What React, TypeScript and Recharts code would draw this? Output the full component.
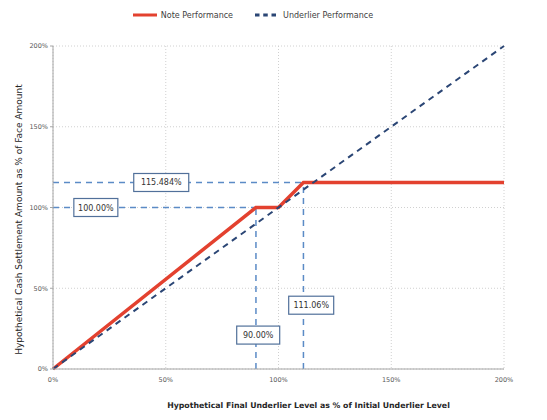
import React from 'react';
import {
  LineChart, Line, XAxis, YAxis, CartesianGrid, Legend, ReferenceLine, ReferenceDot, Label,
} from 'recharts';

// payoff points (x = final underlier level %, y = cash settlement %)
const noteX = [0, 90, 100, 111.06, 200];
const noteY = [0, 100, 100, 115.484, 115.484];
const underX = [0, 200];
const underY = [0, 200];
const axisTicks = [0, 50, 100, 150, 200];

const capLevel = 115.484;
const capStrike = 111.06;
const floorLevel = 100;
const floorStrike = 90;

// annotation boxes, placed in data space
const boxes = [
  { x: 48, y: capLevel, text: '115.484%', w: 55 },
  { x: 19, y: floorLevel, text: '100.00%', w: 44 },
  { x: 91, y: 21, text: '90.00%', w: 43 },
  { x: 114.5, y: 39.5, text: '111.06%', w: 45 },
];

const noteData = noteX.map((x, i) => ({ x, y: noteY[i] }));
const underData = underX.map((x, i) => ({ x, y: underY[i] }));

const FONT = 'Tahoma, "DejaVu Sans", sans-serif';
const RED = '#e3412f';
const NAVY = '#2b4675';
const GUIDE = '#5b8bc6';

const BoxShape = (w: number, text: string) => (props: any) => {
  const { cx, cy } = props;
  const h = 18;
  return (
    <g>
      <rect x={cx - w / 2} y={cy - h / 2} width={w} height={h} fill="#fff" stroke="#51709a" strokeWidth={1.2} />
      <text x={cx} y={cy + 3} textAnchor="middle" fontSize={8} fontFamily={FONT} fill="#333">{text}</text>
    </g>
  );
};

const YTitle = (props: any) => {
  const { viewBox } = props;
  const x = 19;
  const y = viewBox.y + viewBox.height / 2 + 12;
  return (
    <text
      x={x}
      y={y}
      transform={`rotate(-90 ${x} ${y})`}
      textAnchor="middle"
      dominantBaseline="central"
      fontSize={9}
      fill="#262626"
      fontFamily={FONT}
    >
      Hypothetical Cash Settlement Amount as % of Face Amount
    </text>
  );
};

const pct = (v: number) => `${v}%`;

export default function App() {
  return (
    <div style={{ position: 'absolute', left: 0, top: 0, width: 547, height: 420, background: '#fff' }}>
      <LineChart width={547} height={420} margin={{ top: 22, right: 43, bottom: 0, left: 0 }}>
        <CartesianGrid stroke="#d0d0d0" strokeDasharray="1 2" />
        <XAxis
          type="number"
          dataKey="x"
          domain={[0, 200]}
          ticks={axisTicks}
          tickFormatter={pct}
          height={51}
          axisLine={{ stroke: '#a6a6a6' }}
          tickLine={false}
          tick={{ fontSize: 6.5, fill: '#595959', fontFamily: FONT }}
          allowDuplicatedCategory={false}
        >
          <Label
            value="Hypothetical Final Underlier Level as % of Initial Underlier Level"
            position="insideBottom"
            offset={12}
            dx={30}
            style={{ fontSize: 7.8, fontWeight: 'bold', fill: '#262626', fontFamily: FONT }}
          />
        </XAxis>
        <YAxis
          type="number"
          domain={[0, 200]}
          ticks={axisTicks}
          tickFormatter={pct}
          width={53}
          axisLine={{ stroke: '#a6a6a6' }}
          tickLine={{ stroke: '#a6a6a6' }}
          tickSize={3}
          tick={{ fontSize: 6.5, fill: '#595959', fontFamily: FONT }}
        >
          <Label content={<YTitle />} />
        </YAxis>
        <Legend
          verticalAlign="top"
          align="center"
          iconSize={24}
          wrapperStyle={{ top: 3, left: 12, fontSize: 8, fontFamily: FONT }}
          formatter={(v: string) => <span style={{ color: '#404040', paddingRight: 12 }}>{v}</span>}
        />
        <ReferenceLine segment={[{ x: 0, y: capLevel }, { x: capStrike, y: capLevel }]} stroke={GUIDE} strokeWidth={1.5} strokeDasharray="6 5" />
        <ReferenceLine segment={[{ x: 0, y: floorLevel }, { x: floorStrike, y: floorLevel }]} stroke={GUIDE} strokeWidth={1.5} strokeDasharray="6 5" />
        <ReferenceLine segment={[{ x: floorStrike, y: 0 }, { x: floorStrike, y: floorLevel }]} stroke={GUIDE} strokeWidth={1.5} strokeDasharray="6 5" />
        <ReferenceLine segment={[{ x: capStrike, y: 0 }, { x: capStrike, y: capLevel }]} stroke={GUIDE} strokeWidth={1.5} strokeDasharray="6 5" />
        <Line
          data={noteData}
          dataKey="y"
          name="Note Performance"
          stroke={RED}
          strokeWidth={3.5}
          dot={false}
          legendType="plainline"
          isAnimationActive={false}
        />
        <Line
          data={underData}
          dataKey="y"
          name="Underlier Performance"
          stroke={NAVY}
          strokeWidth={2}
          strokeDasharray="6 5"
          dot={false}
          legendType="plainline"
          isAnimationActive={false}
        />
        {boxes.map((b) => (
          <ReferenceDot key={b.text} x={b.x} y={b.y} r={1} shape={BoxShape(b.w, b.text)} ifOverflow="visible" />
        ))}
      </LineChart>
    </div>
  );
}
